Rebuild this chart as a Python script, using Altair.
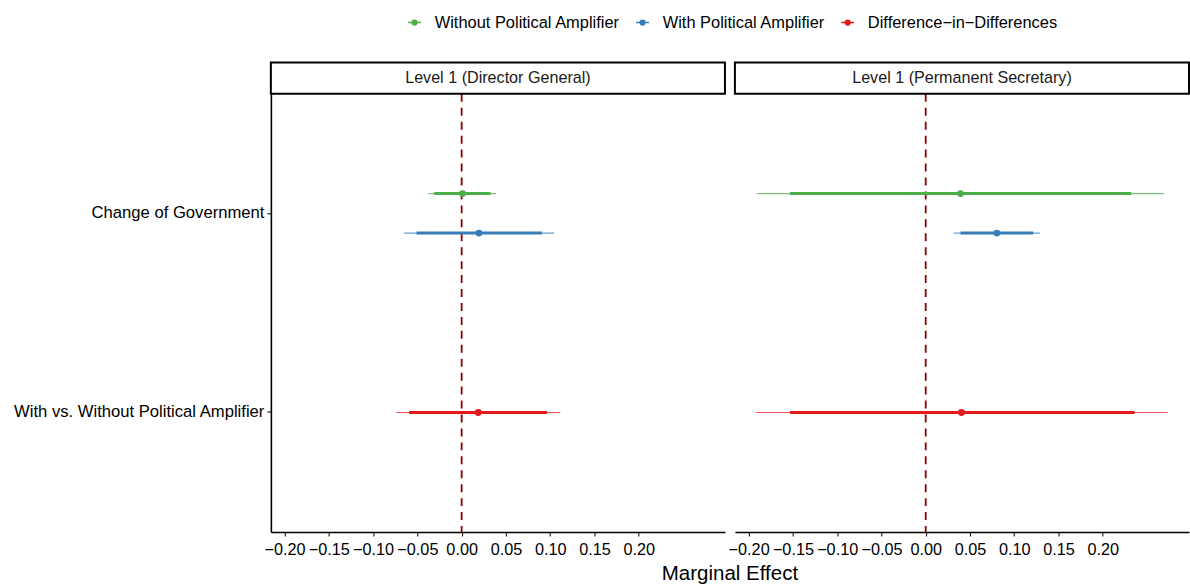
import altair as alt
import pandas as pd

# Facet panels and the contrasts shown on the y axis
panels = ["Level 1 (Director General)", "Level 1 (Permanent Secretary)"]
contrasts = ["Change of Government", "With vs. Without Political Amplifier"]
series = ["Without Political Amplifier", "With Political Amplifier", "Difference\u2212in\u2212Differences"]
series_contrast = [contrasts[0], contrasts[0], contrasts[1]]

# Marginal effects with inner (thick) and outer (thin) confidence bounds, one list per panel
est = [[0.001, 0.0195, 0.0187], [0.0393, 0.0804, 0.0404]]
lo_in = [[-0.031, -0.051, -0.0593], [-0.1533, 0.0393, -0.1533]]
hi_in = [[0.0326, 0.0907, 0.0963], [0.2322, 0.1215, 0.2359]]
lo_out = [[-0.0376, -0.065, -0.0736], [-0.1907, 0.0317, -0.1915]]
hi_out = [[0.039, 0.1046, 0.1114], [0.2692, 0.1293, 0.2734]]

x_ticks = [-0.20, -0.15, -0.10, -0.05, 0.00, 0.05, 0.10, 0.15, 0.20]
x_domain = [-0.2155, 0.2974]

colors = ["#4DAF4A", "#377EB8", "#E41A1C"]
FONT = "Liberation Sans"
W, H = 456, 440
STRIP_H = 31.5

rows = []
for p, panel in enumerate(panels):
    for s, name in enumerate(series):
        rows.append({
            "panel": panel, "series": name, "contrast": series_contrast[s],
            "est": est[p][s], "lo_in": lo_in[p][s], "hi_in": hi_in[p][s],
            "lo_out": lo_out[p][s], "hi_out": hi_out[p][s],
        })
df = pd.DataFrame(rows)

color_scale = alt.Scale(domain=series, range=colors)
# vertical dodge: Without above, DiD centred, With below
offset_scale = alt.Scale(domain=[series[0], series[2], series[1]], paddingInner=0, paddingOuter=0)
y_scale = alt.Scale(domain=contrasts, paddingInner=0.7027, paddingOuter=0.4514)

# legend glyph: short line with a dot (concentric rings fill the dot when stroked)
legend_symbol = (
    "M-1,0L1,0"
    "M0.36,0A0.36,0.36,0,1,1,-0.36,0A0.36,0.36,0,1,1,0.36,0"
    "M0.16,0A0.16,0.16,0,1,1,-0.16,0A0.16,0.16,0,1,1,0.16,0"
)


def panel_chart(idx):
    panel = panels[idx]
    data = df[df["panel"] == panel]
    first = idx == 0
    y_axis = alt.Axis(
        title=None, labelFontSize=16.7, labelColor="black", labelFont=FONT,
        tickColor="black", tickSize=4, domainColor="black", domainWidth=1.6,
        labelPadding=3, labelLimit=400,
    ) if first else None
    x_enc_axis = alt.Axis(
        title=None, values=x_ticks, format=".2f", labelFontSize=16.3, labelColor="black",
        labelFont=FONT, tickColor="black", tickSize=4, domainColor="black",
        domainWidth=1.6, grid=False, labelPadding=6, labelFlush=False,
    )
    base = alt.Chart(data).encode(
        y=alt.Y("contrast:N", scale=y_scale, axis=y_axis, sort=contrasts),
        yOffset=alt.YOffset("series:N", scale=offset_scale),
    )
    x_scale = alt.Scale(domain=x_domain, nice=False, zero=False)

    legend = alt.Legend(
        title=None, orient="none", direction="horizontal", legendX=136, legendY=-80,
        labelFontSize=16.5, labelFont=FONT, labelColor="black", labelLimit=0,
        symbolType=legend_symbol, symbolSize=169, symbolStrokeWidth=1.6,
        labelOffset=12, columnPadding=12, symbolOpacity=1,
    )
    outer = base.mark_rule(strokeWidth=1.2, opacity=0.75).encode(
        x=alt.X("lo_out:Q", scale=x_scale, axis=x_enc_axis),
        x2="hi_out:Q",
        color=alt.Color("series:N", scale=color_scale, legend=legend),
    )
    inner = base.mark_rule(strokeWidth=3).encode(
        x=alt.X("lo_in:Q", scale=x_scale),
        x2="hi_in:Q",
        color=alt.Color("series:N", scale=color_scale, legend=legend),
    )
    points = base.mark_circle(size=48, opacity=1).encode(
        x=alt.X("est:Q", scale=x_scale),
        color=alt.Color("series:N", scale=color_scale, legend=legend),
    )
    zero = alt.Chart(pd.DataFrame({"ref": [0.0]})).mark_rule(
        color="#8B0000", strokeDash=[8, 6], strokeWidth=1.8
    ).encode(x=alt.X("ref:Q", scale=x_scale))

    strip_df = pd.DataFrame({"panel": [panel]})
    strip_box = alt.Chart(strip_df).mark_rect(
        fill="white", stroke="black", strokeWidth=2
    ).encode(x=alt.value(0), x2=alt.value(W), y=alt.value(-STRIP_H), y2=alt.value(0))
    strip_text = alt.Chart(strip_df).mark_text(
        fontSize=16.2, font=FONT, color="#1a1a1a", baseline="middle", align="center"
    ).encode(text="panel:N", x=alt.value(W / 2), y=alt.value(-STRIP_H / 2))

    return alt.layer(zero, outer, inner, points, strip_box, strip_text).properties(
        width=W, height=H
    )


chart = alt.hconcat(
    panel_chart(0), panel_chart(1), spacing=10, bounds="flush"
).properties(
    background="white",
    padding={"left": 12, "top": 13, "right": 0, "bottom": 5},
    title=alt.TitleParams(
        "Marginal Effect", orient="bottom", anchor="middle", frame="group",
        fontSize=20.6, fontWeight="normal", font=FONT, color="black", offset=6, dx=461,
    ),
).configure_view(strokeWidth=0)

chart.save("out.html", embed_options={"renderer": "svg", "actions": False})
